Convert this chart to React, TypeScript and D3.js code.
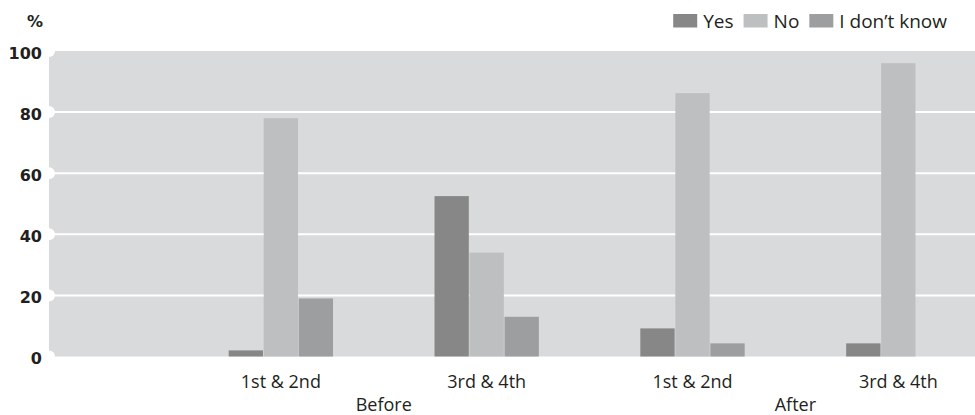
import React, { useEffect, useRef } from 'react';
import * as d3 from 'd3';

// ---- data ----
const groupKeys = ['Before-12', 'Before-34', 'After-12', 'After-34'];
const gradeLabels = ['1st & 2nd', '3rd & 4th', '1st & 2nd', '3rd & 4th'];
const periods = ['Before', 'After'];
const periodOfGroup = ['Before', 'Before', 'After', 'After'];
const seriesNames = ['Yes', 'No', 'I don’t know'];
const yesValues = [2, 52.5, 9.2, 4.3];
const noValues = [78, 34, 86.2, 96];
const dontKnowValues = [19, 13, 4.3, 0];
const yTicks = [0, 20, 40, 60, 80, 100];
const yUnit = '%';

const W = 975;
const H = 415;

export default function App() {
  const ref = useRef<SVGSVGElement | null>(null);

  useEffect(() => {
    const svg = d3.select(ref.current);
    svg.selectAll('*').remove();

    const colors = ['#878787', '#bebfc0', '#9d9e9f'];
    const seriesValues = [yesValues, noValues, dontKnowValues];
    const left = 49, right = 975;

    const y = d3.scaleLinear().domain([0, 100]).range([356.5, 51]);
    const x0 = d3.scaleBand<string>().domain(groupKeys).range([left, right])
      .paddingInner(0.493).paddingOuter(0.496).align(0.88);
    const x1 = d3.scaleBand<string>().domain(seriesNames).range([0, x0.bandwidth()]).paddingInner(0.02);

    const sans = '"Open Sans", sans-serif';

    // background
    svg.append('rect')
      .attr('x', left).attr('y', y(100))
      .attr('width', right - left).attr('height', y(0) - y(100))
      .attr('fill', '#d9dadb');

    // gridlines
    svg.append('g').selectAll('line').data(yTicks.filter(t => t > 0 && t < 100)).join('line')
      .attr('x1', left).attr('x2', right)
      .attr('y1', d => y(d)).attr('y2', d => y(d))
      .attr('stroke', '#ffffff').attr('stroke-width', 2);

    svg.append('g').selectAll('circle').data(yTicks).join('circle')
      .attr('cx', left).attr('cy', d => y(d)).attr('r', 6).attr('fill', '#ffffff');

    // tick labels
    svg.append('g').selectAll('text').data(yTicks).join('text')
      .attr('x', 42).attr('y', d => y(d) + 7.5)
      .attr('text-anchor', 'end')
      .attr('font-family', '"DejaVu Sans", sans-serif').attr('font-weight', 'bold').attr('font-size', 16)
      .attr('fill', '#231f20')
      .text(d => String(d));

    svg.append('text').attr('x', 43).attr('y', 27)
      .attr('text-anchor', 'end')
      .attr('font-family', '"DejaVu Sans", sans-serif').attr('font-weight', 'bold').attr('font-size', 16)
      .attr('fill', '#231f20').text(yUnit);

    // bars
    const gBars = svg.append('g');
    groupKeys.forEach((g, gi) => {
      seriesNames.forEach((s, si) => {
        const v = seriesValues[si][gi];
        if (!v) return;
        gBars.append('rect')
          .attr('x', (x0(g) ?? 0) + (x1(s) ?? 0))
          .attr('y', y(v))
          .attr('width', x1.bandwidth())
          .attr('height', y(0) - y(v))
          .attr('fill', colors[si]);
      });
    });

    // category labels
    svg.append('g').selectAll('text').data(groupKeys).join('text')
      .attr('x', d => (x0(d) ?? 0) + x0.bandwidth() / 2)
      .attr('y', 388)
      .attr('text-anchor', 'middle')
      .attr('font-family', sans).attr('font-size', 18).attr('fill', '#231f20')
      .text((d, i) => gradeLabels[i]);

    svg.append('g').selectAll('text').data(periods).join('text')
      .attr('x', p => {
        const idx = groupKeys.filter((_, i) => periodOfGroup[i] === p);
        const cs = idx.map(k => (x0(k) ?? 0) + x0.bandwidth() / 2);
        return d3.mean(cs) ?? 0;
      })
      .attr('y', 411)
      .attr('text-anchor', 'middle')
      .attr('font-family', sans).attr('font-size', 18).attr('fill', '#231f20')
      .text(p => p);

    // legend (right-aligned)
    const leg = svg.append('g');
    const items = seriesNames.map((s, i) => {
      const r = leg.append('rect').attr('y', 14).attr('width', 24).attr('height', 13.5).attr('fill', colors[i]);
      const t = leg.append('text').attr('y', 27.5)
        .attr('font-family', sans).attr('font-size', 19).attr('fill', '#231f20').text(s);
      const w = (t.node() as SVGTextElement).getComputedTextLength();
      return { r, t, w };
    });
    const sqGap = 6, itemGap = 10;
    const total = items.reduce((a, it) => a + 24 + sqGap + it.w, 0) + itemGap * (items.length - 1);
    let lx = 947 - total;
    items.forEach(it => {
      it.r.attr('x', lx);
      lx += 24 + sqGap;
      it.t.attr('x', lx);
      lx += it.w + itemGap;
    });
  }, []);

  return (
    <svg ref={ref} width={W} height={H}
      style={{ position: 'absolute', left: 0, top: 0, display: 'block', background: '#ffffff' }} />
  );
}
